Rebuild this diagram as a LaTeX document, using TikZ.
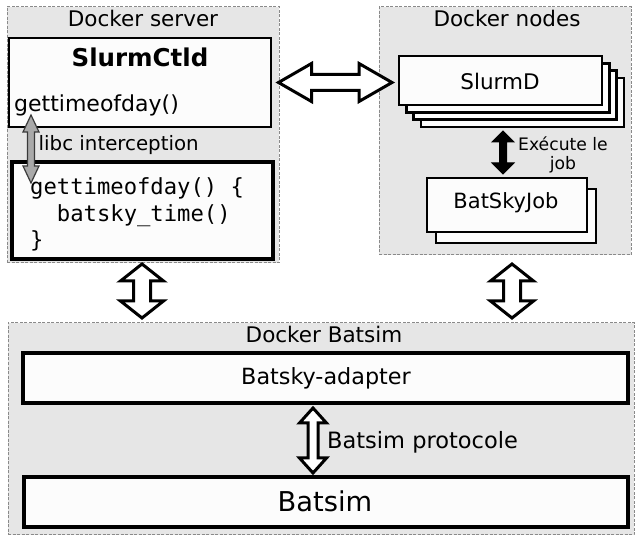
\documentclass[tikz,border=0pt]{standalone}
\usepackage{fontspec}
\setmainfont{DejaVu Sans}
\setmonofont{DejaVu Sans Mono}
\usetikzlibrary{calc}
\definecolor{bggray}{HTML}{E6E6E6}
\definecolor{boxwhite}{HTML}{FCFCFC}
\definecolor{dashgray}{HTML}{8A8A8A}
\definecolor{arrowgray}{HTML}{A9A9A9}
\definecolor{arrowedge}{HTML}{3A3A3A}
% vertical double block arrow: style, top, bottom, head width, head length, shaft width
\newcommand\vdarrow[6]{%
  \draw[#1] (#2) -- ($(#2)+(#4/2,#5)$) -- ($(#2)+(#6/2,#5)$) -- ($(#3)+(#6/2,-#5)$)
    -- ($(#3)+(#4/2,-#5)$) -- (#3) -- ($(#3)+(-#4/2,-#5)$) -- ($(#3)+(-#6/2,-#5)$)
    -- ($(#2)+(-#6/2,#5)$) -- ($(#2)+(-#4/2,#5)$) -- cycle;}
% horizontal double block arrow: style, left, right, head width, head length, shaft width
\newcommand\hdarrow[6]{%
  \draw[#1] (#2) -- ($(#2)+(#5,-#4/2)$) -- ($(#2)+(#5,-#6/2)$) -- ($(#3)+(-#5,-#6/2)$)
    -- ($(#3)+(-#5,-#4/2)$) -- (#3) -- ($(#3)+(-#5,#4/2)$) -- ($(#3)+(-#5,#6/2)$)
    -- ($(#2)+(#5,#6/2)$) -- ($(#2)+(#5,#4/2)$) -- cycle;}
\begin{document}
\begin{tikzpicture}[x=1pt,y=-1pt,
  container/.style={draw=dashgray, fill=bggray, line width=1pt, dash pattern=on 3pt off 1.5pt,
    anchor=north west, inner sep=0pt, outer sep=0pt},
  whitebox/.style={draw=black, fill=boxwhite, line width=#1, anchor=north west, inner sep=0pt, outer sep=0pt},
  whitebox/.default=2.5pt,
  lbl/.style={inner sep=0pt, anchor=base, text=black},
  fdock/.style={font=\fontsize{21.5}{26}\selectfont},
  hollow/.style={draw=black, fill=white, line width=3pt, line join=miter},
  solid/.style={draw=black, fill=black, line width=1pt, line join=miter},
  grayarr/.style={draw=arrowedge, fill=arrowgray, line width=1.2pt, line join=miter}
]
\useasboundingbox (0,0) rectangle (638,537);
\fill[white] (0,0) rectangle (638,537);

% containers
\node[container, minimum width=272pt, minimum height=256pt] (srv) at (7,7) {};
\node[container, minimum width=252pt, minimum height=248pt] (nodes) at (379,7) {};
\node[container, minimum width=626pt, minimum height=212pt] (dbat) at (8,323) {};

\node[lbl, fdock] (tsrv) at (143,26.5) {Docker server};
\node[lbl, fdock] (tnodes) at (507,27) {Docker nodes};
\node[lbl, fdock] (tdbat) at (324,342.3) {Docker Batsim};

% server content
\node[whitebox=2.5pt, minimum width=262pt, minimum height=89pt] (ctld) at (9,38) {};
\node[lbl, font=\bfseries\fontsize{24.5}{29}\selectfont] (tctld) at (140,66.5) {SlurmCtld};
\node[lbl, anchor=base west, font=\fontsize{22}{26}\selectfont] (tgtod) at (14,111.5) {gettimeofday()};
\node[whitebox=3.5pt, minimum width=261pt, minimum height=97pt] (code) at (12,162) {};
\node[lbl, anchor=base west, font=\ttfamily\fontsize{22.2}{26}\selectfont] (c1) at (30,195) {gettimeofday() \{};
\node[lbl, anchor=base west, font=\ttfamily\fontsize{22.2}{26}\selectfont] (c2) at (30,221.5) {\ \ batsky\_time()};
\node[lbl, anchor=base west, font=\ttfamily\fontsize{22.2}{26}\selectfont] (c3) at (30,248) {\}};

\coordinate (ga1) at (31,115);
\coordinate (ga2) at (31,183);
\vdarrow{grayarr}{ga1}{ga2}{16}{17}{7}
\node[lbl, anchor=base west, font=\fontsize{19.8}{24}\selectfont] (tlibc) at (38.5,150.5) {libc interception};

% nodes content
\foreach \k in {3,2,1} {
  \node[whitebox=2.5pt, minimum width=203pt, minimum height=49pt] at ($(399,56)+(7.3*\k,7.3*\k)$) {};
}
\node[whitebox=2.5pt, minimum width=203pt, minimum height=49pt] (slurmd) at (399,56) {};
\node[lbl, font=\fontsize{21.5}{26}\selectfont] (tslurmd) at (500,89.3) {SlurmD};

\node[whitebox=2.5pt, minimum width=160pt, minimum height=54pt] (bsjback) at (436,189) {};
\node[whitebox=2.5pt, minimum width=160pt, minimum height=54pt] (bsj) at (427,178) {};
\node[lbl, font=\fontsize{21}{26}\selectfont] (tbsj) at (506,208.3) {BatSkyJob};

\coordinate (ba1) at (503,131);
\coordinate (ba2) at (503,174);
\vdarrow{solid}{ba1}{ba2}{22}{11}{7}
\node[lbl, font=\fontsize{17.2}{20}\selectfont] (texec) at (563,150.7) {Exécute le};
\node[lbl, font=\fontsize{17.2}{20}\selectfont] (tjob) at (563,170) {job};

% big horizontal arrow
\coordinate (ha1) at (278.5,82.5);
\coordinate (ha2) at (392,82.5);
\hdarrow{hollow}{ha1}{ha2}{38}{33}{16}

% vertical arrows to batsim
\coordinate (va1) at (142,264);
\coordinate (va2) at (142,318);
\vdarrow{hollow}{va1}{va2}{43}{17}{17}
\coordinate (vb1) at (512,264);
\coordinate (vb2) at (512,318);
\vdarrow{hollow}{vb1}{vb2}{43}{17}{17}

% batsim content
\node[whitebox=3.5pt, minimum width=605pt, minimum height=50pt] (adapter) at (23,353) {};
\node[lbl, font=\fontsize{22.3}{26}\selectfont] (tadapter) at (326,385) {Batsky-adapter};
\node[whitebox=3.5pt, minimum width=604pt, minimum height=50pt] (batsim) at (24,477) {};
\node[lbl, font=\fontsize{27.3}{32}\selectfont] (tbatsim) at (325,511.7) {Batsim};

\coordinate (pa1) at (313,408);
\coordinate (pa2) at (313,473);
\vdarrow{hollow}{pa1}{pa2}{27}{15}{10}
\node[lbl, anchor=base west, font=\fontsize{22.5}{26}\selectfont] (tproto) at (327,448.3) {Batsim protocole};
\end{tikzpicture}
\end{document}
